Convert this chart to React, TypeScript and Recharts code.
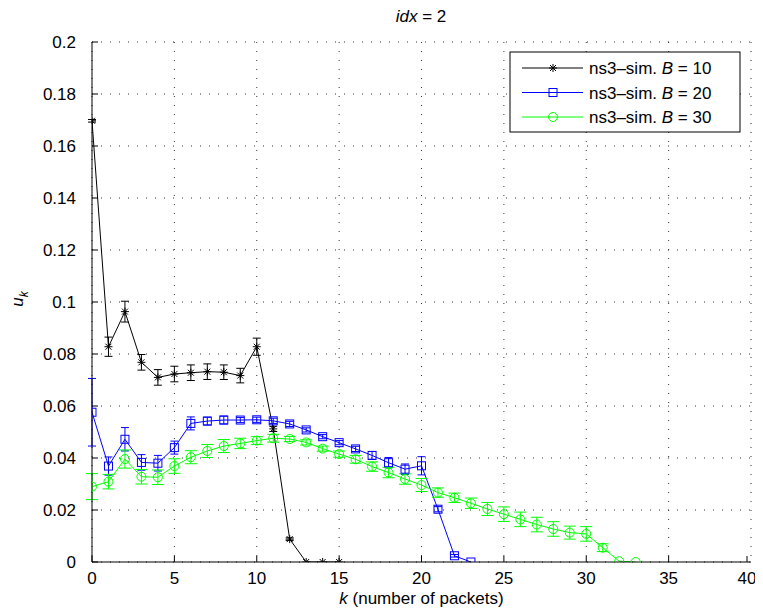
import React from 'react';
import { LineChart, Line, XAxis, YAxis, CartesianGrid, ErrorBar } from 'recharts';

// B = 10
const kB10 = [0, 1, 2, 3, 4, 5, 6, 7, 8, 9, 10, 11, 12, 13, 14, 15];
const uB10 = [0.1697, 0.0828, 0.0963, 0.0768, 0.071, 0.0723, 0.0728, 0.0732, 0.073, 0.0717, 0.0828, 0.0512, 0.0088, 0, 0, 0];
const eB10 = [0.0005, 0.0037, 0.004, 0.003, 0.003, 0.003, 0.003, 0.003, 0.0028, 0.0028, 0.0033, 0.001, 0.0005, 0, 0, 0];

// B = 20
const kB20 = [0, 1, 2, 3, 4, 5, 6, 7, 8, 9, 10, 11, 12, 13, 14, 15, 16, 17, 18, 19, 20, 21, 22, 23];
const uB20 = [0.0576, 0.0369, 0.0472, 0.0383, 0.038, 0.044, 0.0533, 0.0542, 0.0546, 0.0546, 0.0547, 0.0543, 0.0531, 0.0508, 0.0482, 0.0459, 0.0435, 0.041, 0.0382, 0.0357, 0.037, 0.0203, 0.0024, 0];
const eB20 = [0.013, 0.0035, 0.0045, 0.003, 0.003, 0.0025, 0.0025, 0.0015, 0.0015, 0.001, 0.001, 0.001, 0.001, 0.0008, 0.0008, 0.0008, 0.001, 0.0015, 0.002, 0.002, 0.0035, 0.001, 0.0005, 0];

// B = 30
const kB30 = [0, 1, 2, 3, 4, 5, 6, 7, 8, 9, 10, 11, 12, 13, 14, 15, 16, 17, 18, 19, 20, 21, 22, 23, 24, 25, 26, 27, 28, 29, 30, 31, 32, 33];
const uB30 = [0.029, 0.0309, 0.0396, 0.0328, 0.0326, 0.0369, 0.0403, 0.0427, 0.0446, 0.0456, 0.0467, 0.0476, 0.0473, 0.046, 0.0436, 0.0415, 0.0395, 0.0367, 0.0344, 0.0319, 0.0296, 0.0267, 0.0247, 0.0226, 0.0204, 0.0184, 0.0164, 0.0144, 0.0127, 0.0113, 0.0108, 0.0055, 0.0003, 0];
const eB30 = [0.005, 0.0028, 0.0035, 0.0028, 0.0028, 0.0028, 0.0025, 0.0025, 0.0025, 0.002, 0.0015, 0.0015, 0.001, 0.001, 0.001, 0.0012, 0.0015, 0.0018, 0.002, 0.002, 0.0025, 0.0018, 0.0018, 0.002, 0.0025, 0.0028, 0.0028, 0.0028, 0.0028, 0.0025, 0.0028, 0.0015, 0, 0];

const xTicks = [0, 5, 10, 15, 20, 25, 30, 35, 40];
const yTicks = [0, 0.02, 0.04, 0.06, 0.08, 0.1, 0.12, 0.14, 0.16, 0.18, 0.2];

const seriesNames = ['ns3\u2013sim. ', 'ns3\u2013sim. ', 'ns3\u2013sim. '];
const seriesB = ['10', '20', '30'];
const colors = ['#000000', '#0000ff', '#00ff00'];

const build = (k: number[], u: number[], e: number[]) => k.map((kk, i) => ({ k: kk, u: u[i], e: e[i] }));
const d10 = build(kB10, uB10, eB10);
const d20 = build(kB20, uB20, eB20);
const d30 = build(kB30, uB30, eB30);

const FONT = '"Liberation Sans", Arial, Helvetica, sans-serif';
const W = 747;
const H = 600;
const TM = 10;

const Star = ({ cx, cy, color }: any) => (
  <g stroke={color} strokeWidth={1}>
    <line x1={cx - 4} y1={cy} x2={cx + 4} y2={cy} />
    <line x1={cx} y1={cy - 4} x2={cx} y2={cy + 4} />
    <line x1={cx - 3} y1={cy - 3} x2={cx + 3} y2={cy + 3} />
    <line x1={cx - 3} y1={cy + 3} x2={cx + 3} y2={cy - 3} />
  </g>
);
const Sq = ({ cx, cy, color }: any) => (
  <rect x={cx - 4} y={cy - 4} width={8} height={8} fill="none" stroke={color} strokeWidth={1} />
);
const Circ = ({ cx, cy, color }: any) => (
  <circle cx={cx} cy={cy} r={4.5} fill="none" stroke={color} strokeWidth={1} />
);

const XTick = (props: any) => {
  const { x, y, payload } = props;
  const ay = y - TM;
  return (
    <g>
      <line x1={x} x2={x} y1={ay} y2={ay - 6} stroke="#000" />
      <text x={x} y={ay + 22} textAnchor="middle" fontSize={17} fontFamily={FONT} fill="#000">
        {payload.value}
      </text>
    </g>
  );
};

const YTick = (props: any) => {
  const { x, y, payload } = props;
  const ax = x + TM;
  const v = Number(Number(payload.value).toFixed(2));
  return (
    <g>
      <line x1={ax} x2={ax + 6} y1={y} y2={y} stroke="#000" />
      <text x={ax - 16} y={y + 6} textAnchor="end" fontSize={17} fontFamily={FONT} fill="#000">
        {String(v)}
      </text>
    </g>
  );
};

const markers = [Star, Sq, Circ];

export default function App() {
  return (
    <div style={{ position: 'relative', width: W, height: H }}>
      <LineChart width={W} height={H} margin={{ top: 34, right: 4, bottom: 16, left: 0 }}>
        <CartesianGrid stroke="#333" strokeDasharray="1 8" strokeWidth={1} />
        <XAxis
          type="number"
          dataKey="k"
          domain={[0, 40]}
          ticks={xTicks}
          allowDataOverflow
          height={30}
          tickSize={0}
          tickMargin={TM}
          tick={<XTick />}
          stroke="#000"
        />
        <YAxis
          type="number"
          domain={[0, 0.2]}
          ticks={yTicks}
          allowDataOverflow
          width={84}
          tickSize={0}
          tickMargin={TM}
          tick={<YTick />}
          stroke="#000"
        />
        <Line
          data={d10}
          dataKey="u"
          type="linear"
          stroke={colors[0]}
          strokeWidth={1}
          isAnimationActive={false}
          dot={(p: any) => <Star key={`a${p.index}`} cx={p.cx} cy={p.cy} color={colors[0]} />}
        >
          <ErrorBar dataKey="e" width={4} stroke={colors[0]} strokeWidth={1} direction="y" isAnimationActive={false} />
        </Line>
        <Line
          data={d20}
          dataKey="u"
          type="linear"
          stroke={colors[1]}
          strokeWidth={1}
          isAnimationActive={false}
          dot={(p: any) => <Sq key={`b${p.index}`} cx={p.cx} cy={p.cy} color={colors[1]} />}
        >
          <ErrorBar dataKey="e" width={4} stroke={colors[1]} strokeWidth={1} direction="y" isAnimationActive={false} />
        </Line>
        <Line
          data={d30}
          dataKey="u"
          type="linear"
          stroke={colors[2]}
          strokeWidth={1}
          isAnimationActive={false}
          dot={(p: any) => <Circ key={`c${p.index}`} cx={p.cx} cy={p.cy} color={colors[2]} />}
        >
          <ErrorBar dataKey="e" width={6} stroke={colors[2]} strokeWidth={1} direction="y" isAnimationActive={false} />
        </Line>
      </LineChart>
      <svg
        width={W}
        height={H}
        style={{ position: 'absolute', left: 0, top: 0, overflow: 'visible', pointerEvents: 'none' }}
      >
        <text x={413} y={14} textAnchor="middle" fontSize={17} fontFamily={FONT} fill="#000">
          <tspan fontStyle="italic">idx</tspan>
          <tspan> = 2</tspan>
        </text>
        <text x={413.5} y={596} textAnchor="middle" fontSize={17} fontFamily={FONT} fill="#000">
          <tspan fontStyle="italic">k</tspan>
          <tspan> (number of packets)</tspan>
        </text>
        <text transform="translate(15,291) rotate(-90)" textAnchor="middle" fontSize={17} fontFamily={FONT} fill="#000">
          <tspan fontStyle="italic">u</tspan>
          <tspan fontStyle="italic" fontSize={12} dy={5}>k</tspan>
        </text>
        <g transform="translate(502,44)">
          <rect x={0} y={0} width={230} height={80} fill="#fff" stroke="#000" strokeWidth={1} />
          {seriesB.map((b, i) => {
            const M = markers[i];
            const yy = 16 + i * 24.5;
            return (
              <g key={b}>
                <line x1={12} x2={73} y1={yy} y2={yy} stroke={colors[i]} strokeWidth={1} />
                <M cx={43} cy={yy} color={colors[i]} />
                <text x={79} y={yy + 6} fontSize={17} fontFamily={FONT} fill="#000">
                  <tspan>{seriesNames[i]}</tspan>
                  <tspan fontStyle="italic">B</tspan>
                  <tspan> = {b}</tspan>
                </text>
              </g>
            );
          })}
        </g>
      </svg>
    </div>
  );
}
